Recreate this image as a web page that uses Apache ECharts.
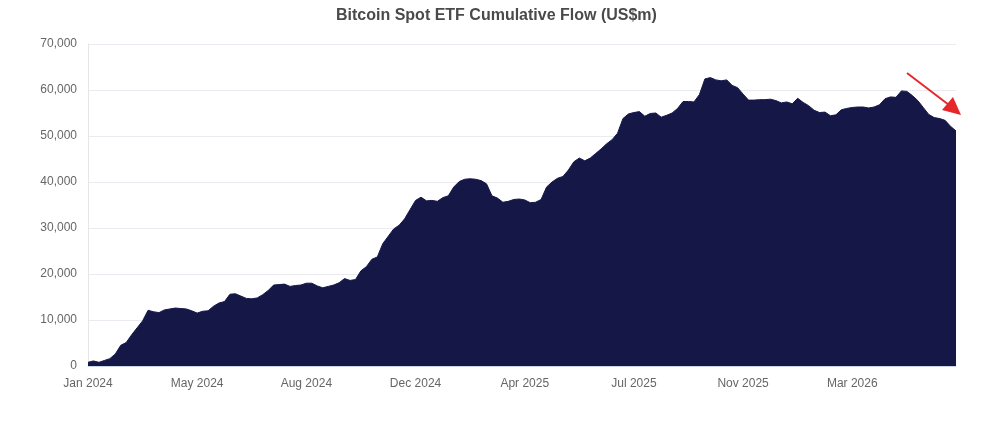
<!DOCTYPE html>
<html lang="en">
<head>
	<meta charset="utf-8">
	<title>Bitcoin Spot ETF Cumulative Flow</title>
	<script src="https://cdn.jsdelivr.net/npm/echarts@6/dist/echarts.min.js"></script>
	<style type="text/css">
		html, body {margin:0;padding:0;background:#ffffff}
		#chart {width:1006px;height:422px}
	</style>
</head>
<body>
	<div id="chart"></div>
	<script>
		// tick labels shown every 20 samples along the category axis
		var tickLabels = ["Jan 2024", "May 2024", "Aug 2024", "Dec 2024", "Apr 2025", "Jul 2025", "Nov 2025", "Mar 2026"];
		var labelEvery = 20;

		// cumulative flow, US$m, one sample every 4 trading days from 11 Jan 2024
		var flow2024 = [
			800, 1100, 800, 1200, 1600, 2600, 4500, 5100, 6800, 8300,
			9800, 12100, 11800, 11600, 12200, 12400, 12600, 12500, 12400, 12000,
			11500, 11900, 12000, 13000, 13700, 14000, 15600, 15700, 15200, 14700,
			14600, 14800, 15500, 16400, 17600, 17700, 17800, 17300, 17500, 17600,
			18000, 18000, 17400, 17000, 17300, 17600, 18100, 19000, 18600, 18800,
			20700, 21600, 23200, 23700, 26600, 28200, 29800, 30600, 32000, 34000
		];
		var flow2025 = [
			36000, 36700, 35900, 36000, 35800, 36600, 37000, 38900, 40100, 40600,
			40700, 40600, 40300, 39600, 37000, 36500, 35600, 35800, 36200, 36300,
			36100, 35500, 35600, 36200, 38900, 40000, 40800, 41200, 42600, 44400,
			45200, 44600, 45200, 46200, 47200, 48300, 49200, 50600, 53800, 54800,
			55100, 55300, 54300, 54900, 55000, 54100, 54500, 55000, 56000, 57500,
			57500, 57400, 59000, 62400, 62700, 62200, 62000, 62200, 61000, 60500
		];
		var flow2026 = [
			59100, 57800, 57800, 57900, 57900, 58000, 57700, 57200, 57400, 57000,
			58200, 57300, 56600, 55600, 55100, 55200, 54400, 54600, 55700, 56000,
			56200, 56300, 56300, 56100, 56300, 56800, 58100, 58500, 58400, 59800,
			59700, 58800, 57700, 56200, 54700, 54000, 53800, 53400, 52100, 51100
		];
		var flowValues = flow2024.concat(flow2025, flow2026);

		// sample dates (weekdays, stepping 4 trading days)
		var sampleDates = [];
		var d = new Date(Date.UTC(2024, 0, 11));
		for (var i = 0; i < flowValues.length; i++) {
			sampleDates.push(d.toISOString().slice(0, 10));
			var n = 0;
			while (n < 4) {
				d.setUTCDate(d.getUTCDate() + 1);
				var wd = d.getUTCDay();
				if (wd != 0 && wd != 6) n++;
			}
		}

		var myChart = echarts.init(document.getElementById("chart"));

		var option = {
			animation: false,
			backgroundColor: "#ffffff",
			title: {
				text: "Bitcoin Spot ETF Cumulative Flow (US$m)",
				left: 331,
				top: 3,
				textStyle: {
					color: "#4a4a4a",
					fontSize: 16,
					fontWeight: "bold",
					fontFamily: "Liberation Sans, Arial, sans-serif"
				}
			},
			grid: {
				left: 88,
				right: 50,
				top: 44,
				bottom: 56,
				containLabel: false
			},
			xAxis: {
				type: "category",
				boundaryGap: false,
				data: sampleDates,
				axisLine: {lineStyle: {color: "#ccd6eb", width: 1}},
				axisTick: {show: false},
				splitLine: {show: false},
				axisLabel: {
					interval: labelEvery - 1,
					margin: 12,
					color: "#666666",
					fontSize: 12,
					fontFamily: "Liberation Sans, Arial, sans-serif",
					formatter: function (value, index) {
						return tickLabels[Math.round(index / labelEvery)] || "";
					}
				}
			},
			yAxis: {
				type: "value",
				min: 0,
				max: 70000,
				interval: 10000,
				axisLine: {show: true, lineStyle: {color: "#e6e6e6"}},
				axisTick: {show: false},
				splitLine: {lineStyle: {color: "#e9ebf0", width: 1}},
				axisLabel: {
					margin: 11,
					color: "#666666",
					fontSize: 12,
					fontFamily: "Liberation Sans, Arial, sans-serif",
					formatter: function (v) {
						return v.toLocaleString("en-US");
					}
				}
			},
			series: [
				{
					name: "Cumulative flow",
					type: "line",
					data: flowValues,
					symbol: "none",
					smooth: false,
					lineStyle: {color: "#151747", width: 1},
					areaStyle: {color: "#151747", opacity: 1},
					z: 2
				}
			],
			// red arrow annotation, top right
			graphic: [
				{
					type: "line",
					shape: {x1: 907, y1: 73, x2: 949, y2: 105},
					style: {stroke: "#e5262b", lineWidth: 2},
					z: 10
				},
				{
					type: "polygon",
					shape: {points: [[961, 115], [942, 110], [953, 97]]},
					style: {fill: "#e5262b"},
					z: 10
				}
			]
		};

		myChart.setOption(option);
	</script>
</body>
</html>
